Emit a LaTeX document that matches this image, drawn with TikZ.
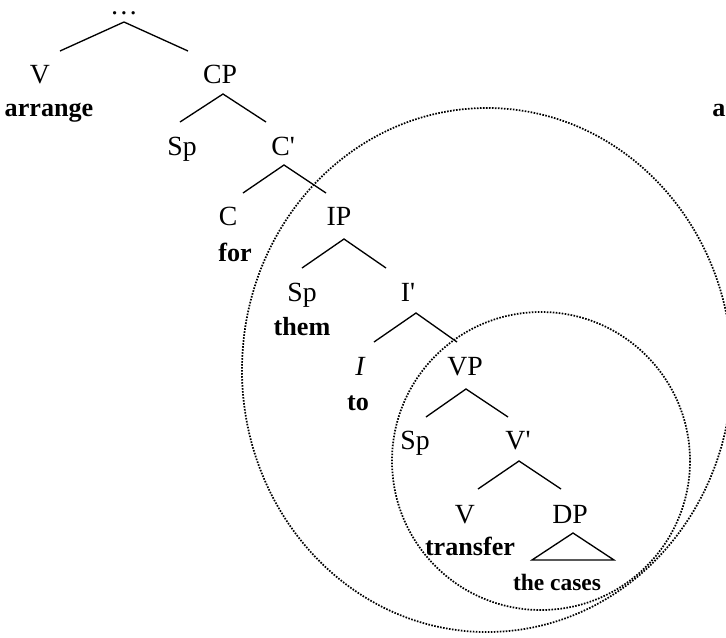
\documentclass[tikz,border=0pt]{standalone}
\usepackage{fontspec}
\setmainfont{Liberation Serif}[Ligatures=TeXOff]
\usetikzlibrary{calc}
\begin{document}
\begin{tikzpicture}[x=0.75pt,y=-0.75pt,
  lab/.style={anchor=base,inner sep=0pt,font=\fontsize{20.8pt}{23pt}\selectfont},
  word/.style={anchor=base,inner sep=0pt,font=\fontsize{19.6pt}{22pt}\selectfont\bfseries},
  small/.style={anchor=base,inner sep=0pt,font=\fontsize{17.6pt}{20pt}\selectfont\bfseries},
  branch/.style={line width=1pt},
  halo/.style={line width=1.3pt,dash pattern=on 1.2pt off 1.05pt}]
\useasboundingbox (0,0) rectangle (726,637);
\clip (0,0) rectangle (726,637);

% category labels
\node[lab,text height=4pt] (dots) at (124,14) {…};
\node[lab] (V1)  at (40,83)  {V};
\node[lab] (CP)  at (220,83) {CP};
\node[lab] (Sp1) at (182,155) {Sp};
\node[lab] (Cb)  at (283,155) {C'};
\node[lab] (C)   at (228,225) {C};
\node[lab] (IP)  at (339,225) {IP};
\node[lab] (Sp2) at (302,301) {Sp};
\node[lab] (Ib)  at (408,301) {I'};
\node[lab] (I)   at (360,375) {\itshape I};
\node[lab] (VP)  at (465,375) {VP};
\node[lab] (Sp3) at (415,449) {Sp};
\node[lab] (Vb)  at (518,449) {V'};
\node[lab] (V2)  at (465,523) {V};
\node[lab] (DP)  at (570,523) {DP};

% lexical items
\node[word] (arr1)  at (49,116)  {arrange};
\node[word] (wfor)  at (235,261) {for};
\node[word] (them)  at (302,335) {them};
\node[word] (wto)   at (358,410) {to};
\node[word] (trans) at (470,555) {transfer};
\node[small] (cases) at (557,590) {the cases};
\node[word,anchor=base west] (arr2) at (712,116) {arrange};

% branches
\draw[branch] ($(V1.base)+(20,-32)$) -- ($(dots.base)+(0,8)$) -- ($(CP.base)+(-32,-32)$);
\draw[branch] ($(Sp1.base)+(-2,-33)$) -- ($(CP.base)+(3,11)$) -- ($(Cb.base)+(-17,-33)$);
\draw[branch] ($(C.base)+(15,-32)$) -- ($(Cb.base)+(1,10)$) -- ($(IP.base)+(-13,-32)$);
\draw[branch] ($(Sp2.base)+(0,-33)$) -- ($(IP.base)+(5,14)$) -- ($(Ib.base)+(-22,-33)$);
\draw[branch] ($(I.base)+(14,-33)$) -- ($(Ib.base)+(8,12)$) -- ($(VP.base)+(-8,-33)$);
\draw[branch] ($(Sp3.base)+(11,-32)$) -- ($(VP.base)+(1,14)$) -- ($(Vb.base)+(-10,-32)$);
\draw[branch] ($(V2.base)+(13,-34)$) -- ($(Vb.base)+(1,12)$) -- ($(DP.base)+(-9,-34)$);
\draw[branch] ($(DP.base)+(3,10)$) -- ($(DP.base)+(-38,37)$) -- ($(DP.base)+(44,37)$) -- cycle;

% dotted domains
\draw[halo] (487,370) ellipse [x radius=245, y radius=262];
\draw[halo] (541,461) circle [radius=149];
\end{tikzpicture}
\end{document}
